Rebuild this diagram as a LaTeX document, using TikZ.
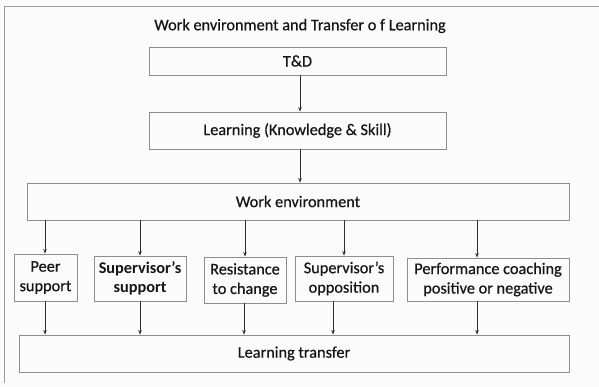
\documentclass[tikz,border=0pt]{standalone}
\usepackage{fontspec}
\setmainfont{Carlito}
\newfontfamily\heavy[FakeBold=0.5]{Carlito}
\usetikzlibrary{arrows.meta}
\definecolor{paper}{HTML}{FBFBFB}
\definecolor{boxline}{HTML}{8E8E8E}
\definecolor{frameline}{HTML}{9A9A9A}
\definecolor{ink}{HTML}{151515}
\definecolor{arrowink}{HTML}{2E2E2E}
\begin{document}
\begin{tikzpicture}[x=1pt,y=-1pt,
  box/.style={draw=boxline,line width=0.9pt,rectangle,inner sep=0pt,align=center,
    text=ink,font=\heavy\fontsize{16.3}{19.5}\selectfont},
  arr/.style={draw=arrowink,line width=0.9pt,-{Stealth[length=4.5pt,width=3.5pt]}}]
% canvas and frame
\fill[paper] (0,0) rectangle (599,387);
\useasboundingbox (0,0) rectangle (599,387);
\draw[frameline,line width=0.8pt] (599,6) -- (4,6) -- (4,383);
% title
\node[text=ink,font=\heavy\fontsize{16.3}{19}\selectfont] (title) at (300,26) {Work environment and Transfer o f Learning};
% main chain
\node[box,minimum width=297pt,minimum height=28pt] (td) at (297.5,61) {T\&D};
\node[box,minimum width=297pt,minimum height=37pt] (learn) at (297.5,130.5) {Learning (Knowledge \& Skill)};
\node[box,minimum width=542pt,minimum height=37pt] (work) at (298,201.5) {Work environment};
% factors
\node[box,minimum width=63pt,minimum height=47pt] (peer) at (45.5,277.5) {Peer\\support};
\node[box,minimum width=92pt,minimum height=45pt,font=\fontsize{16.3}{19.5}\selectfont\bfseries] (supp) at (140,278.5) {Supervisor’s\\support};
\node[box,minimum width=82pt,minimum height=46pt] (resist) at (245,280) {Resistance\\to change};
\node[box,minimum width=98pt,minimum height=45pt] (oppo) at (344,278.5) {Supervisor’s\\opposition};
\node[box,minimum width=162pt,minimum height=43pt] (perf) at (488,279.5) {Performance coaching\\positive or negative};
% outcome
\node[box,minimum width=550pt,minimum height=37pt] (transfer) at (294,353.5) {Learning transfer};
% connectors
\draw[arr] (td.south -| 300,0) -- (learn.north -| 300,0);
\draw[arr] (learn.south -| 300,0) -- (work.north -| 300,0);
\draw[arr] (work.south -| 45,0) -- (peer.north -| 45,0);
\draw[arr] (work.south -| 140,0) -- (supp.north -| 140,0);
\draw[arr] (work.south -| 245,0) -- (resist.north -| 245,0);
\draw[arr] (work.south -| 344,0) -- (oppo.north -| 344,0);
\draw[arr] (work.south -| 477,0) -- (perf.north -| 477,0);
\draw[arr] (peer.south -| 45,0) -- (transfer.north -| 45,0);
\draw[arr] (supp.south -| 140,0) -- (transfer.north -| 140,0);
\draw[arr] (resist.south -| 244,0) -- (transfer.north -| 244,0);
\draw[arr] (oppo.south -| 333,0) -- (transfer.north -| 333,0);
\draw[arr] (perf.south -| 477,0) -- (transfer.north -| 477,0);
\end{tikzpicture}
\end{document}
